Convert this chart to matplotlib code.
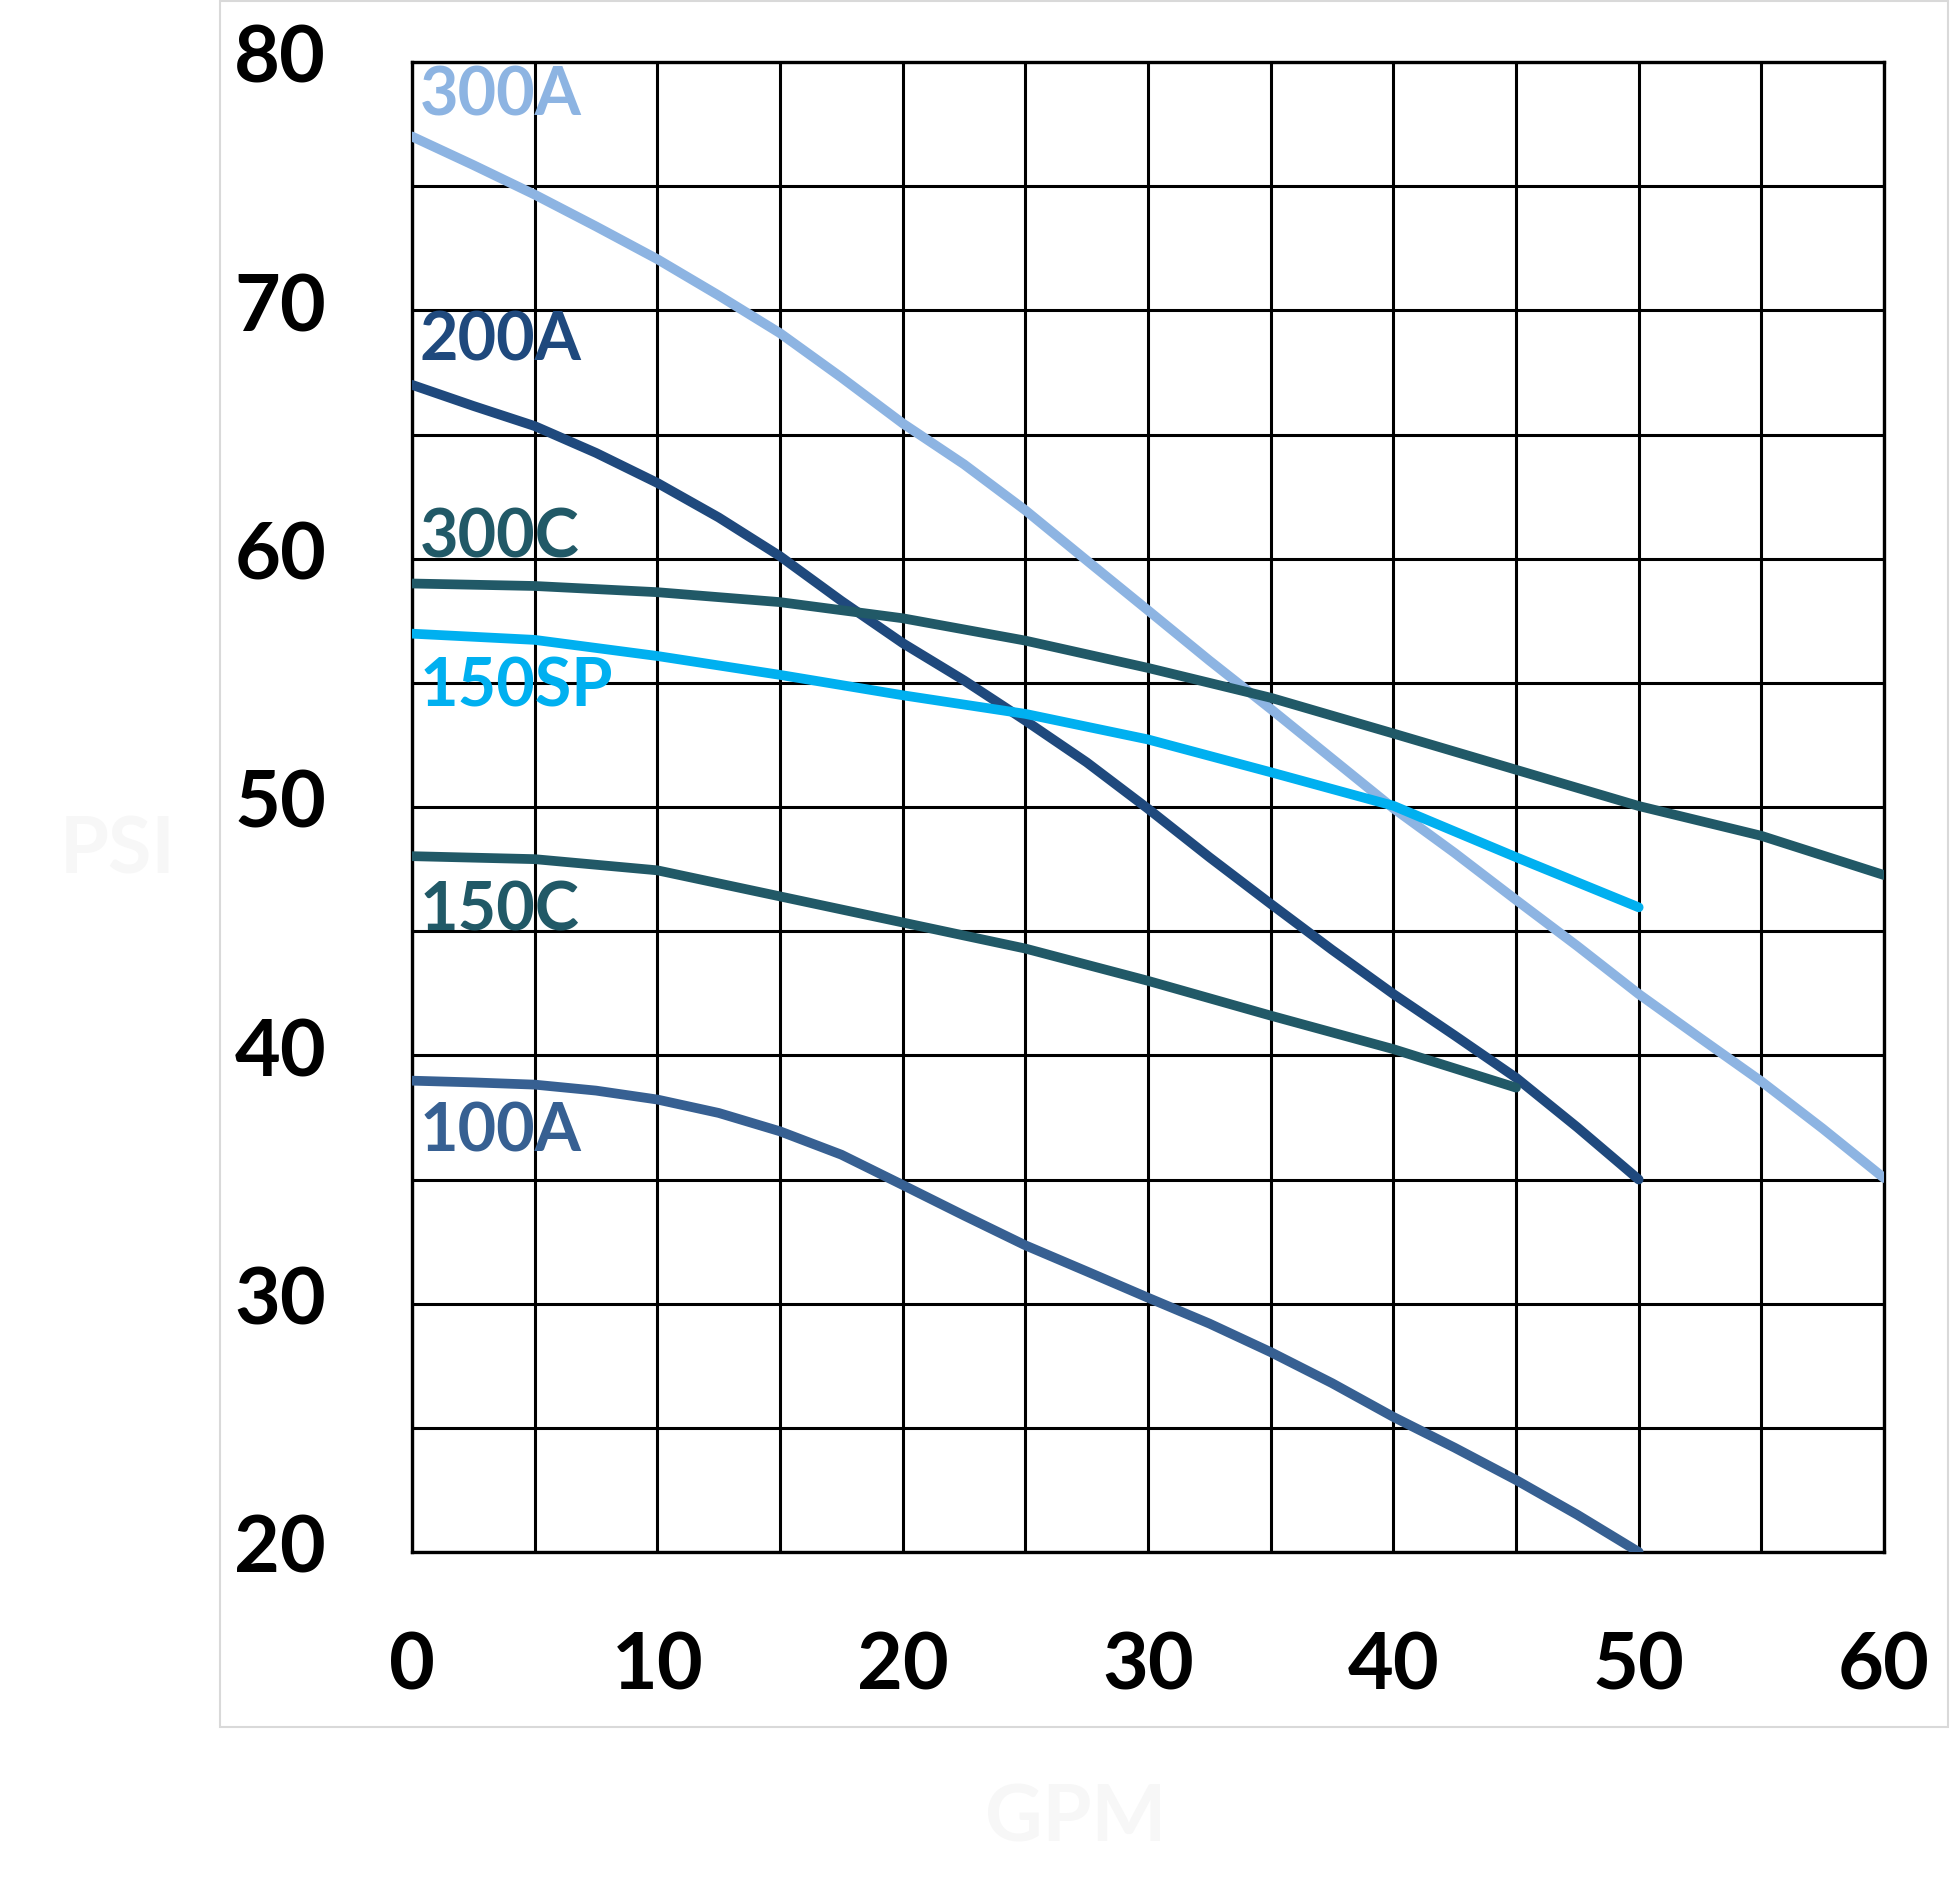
import matplotlib
matplotlib.use("Agg")
import matplotlib.pyplot as plt
from matplotlib.patches import Rectangle

plt.rcParams['font.family'] = ['Lato', 'DejaVu Sans']

# ---- data (GPM vs PSI) ----
gpm_300A = [0, 2.5, 5, 7.5, 10, 12.5, 15, 17.5, 20, 22.5, 25, 27.5, 30, 32.5, 35,
            37.5, 40, 42.5, 45, 47.5, 50, 52.5, 55, 57.5, 60]
psi_300A = [77.0, 75.85, 74.66, 73.38, 72.06, 70.6, 69.08, 67.3, 65.45, 63.8, 61.95,
            59.93, 57.92, 55.9, 53.95, 51.95, 49.95, 48.15, 46.26, 44.4, 42.47, 40.7,
            38.95, 37.05, 35.06]

gpm_200A = [0, 2.5, 5, 7.5, 10, 12.5, 15, 17.5, 20, 22.5, 25, 27.5, 30, 32.5, 35,
            37.5, 40, 42.5, 45, 47.5, 50]
psi_200A = [67.0, 66.15, 65.34, 64.26, 63.05, 61.66, 60.1, 58.3, 56.6, 55.1, 53.48,
            51.8, 49.93, 47.98, 46.1, 44.25, 42.47, 40.8, 39.1, 37.1, 35.0]

gpm_300C = [0, 5, 10, 15, 20, 25, 30, 35, 40, 45, 50, 55, 60]
psi_300C = [59.0, 58.9, 58.65, 58.25, 57.6, 56.7, 55.6, 54.4, 52.96, 51.5, 50.04,
            48.84, 47.26]

gpm_150SP = [0, 5, 10, 15, 20, 25, 30, 35, 40, 45, 50]
psi_150SP = [56.98, 56.73, 56.08, 55.32, 54.5, 53.75, 52.72, 51.4, 50.05, 47.98, 45.96]

gpm_150C = [0, 5, 10, 15, 20, 25, 30, 35, 40, 45]
psi_150C = [48.02, 47.9, 47.45, 46.4, 45.35, 44.3, 43.0, 41.6, 40.25, 38.7]

gpm_100A = [0, 2.5, 5, 7.5, 10, 12.5, 15, 17.5, 20, 22.5, 25, 27.5, 30, 32.5, 35,
            37.5, 40, 42.5, 45, 47.5, 50]
psi_100A = [38.98, 38.91, 38.82, 38.58, 38.22, 37.68, 36.94, 36.0, 34.78, 33.55,
            32.35, 31.3, 30.24, 29.2, 28.05, 26.8, 25.44, 24.2, 22.9, 21.5, 20.0]

series_names = ["300A", "200A", "300C", "150SP", "150C", "100A"]
label_y = [78.6, 68.75, 60.8, 54.8, 45.8, 36.9]
colors = ["#8DB4E2", "#1F497D", "#215967", "#00B0F0", "#215967", "#376092"]

x_ticks = [0, 10, 20, 30, 40, 50, 60]
y_ticks = [20, 30, 40, 50, 60, 70, 80]

# ---- figure ----
W, H = 1950, 1900
fig = plt.figure(figsize=(W / 100, H / 100), dpi=100)
fig.patch.set_facecolor("white")

# light gray outer frame
fig.patches.append(Rectangle((220 / W, 1 - 1727 / H), (1948 - 220) / W, (1727 - 1) / H,
                             transform=fig.transFigure, fill=False,
                             edgecolor="#D9D9D9", linewidth=1.5, zorder=0))

ax = fig.add_axes([412 / W, 1 - 1552 / H, (1884 - 412) / W, (1552 - 62) / H])
ax.set_xlim(0, 60)
ax.set_ylim(20, 80)

ax.set_xticks(list(range(0, 61, 5)))
ax.set_yticks(list(range(20, 81, 5)))
ax.grid(True, color="black", linewidth=2.2)
ax.set_axisbelow(True)
for s in ax.spines.values():
    s.set_linewidth(2.4)
    s.set_color("black")
ax.tick_params(length=0, labelbottom=False, labelleft=False)

xs = [gpm_300A, gpm_200A, gpm_300C, gpm_150SP, gpm_150C, gpm_100A]
ys = [psi_300A, psi_200A, psi_300C, psi_150SP, psi_150C, psi_100A]
for x, y, c in zip(xs, ys, colors):
    ax.plot(x, y, color=c, linewidth=7.0, solid_capstyle="round",
            solid_joinstyle="round", clip_on=True, zorder=3)

for name, ly, c in zip(series_names, label_y, colors):
    ax.text(0.3, ly, name, color=c, fontsize=48, fontweight="bold",
            ha="left", va="center", zorder=4)

# tick labels
for v in y_ticks:
    ax.text(-3.5, v + 0.05, str(v), fontsize=57, fontweight="bold",
            ha="right", va="center", clip_on=False)
for v in x_ticks:
    ax.text(v, 15.35, str(v), fontsize=57, fontweight="bold",
            ha="center", va="center", clip_on=False)

# faint axis titles
fig.text(118 / W, 1 - 852 / H, "PSI", fontsize=57, fontweight="bold",
         color="#F7F7F7", ha="center", va="center")
fig.text(1076 / W, 1 - 1819 / H, "GPM", fontsize=57, fontweight="bold",
         color="#F7F7F7", ha="center", va="center")

fig.savefig("out.png", dpi=100, facecolor="white")
